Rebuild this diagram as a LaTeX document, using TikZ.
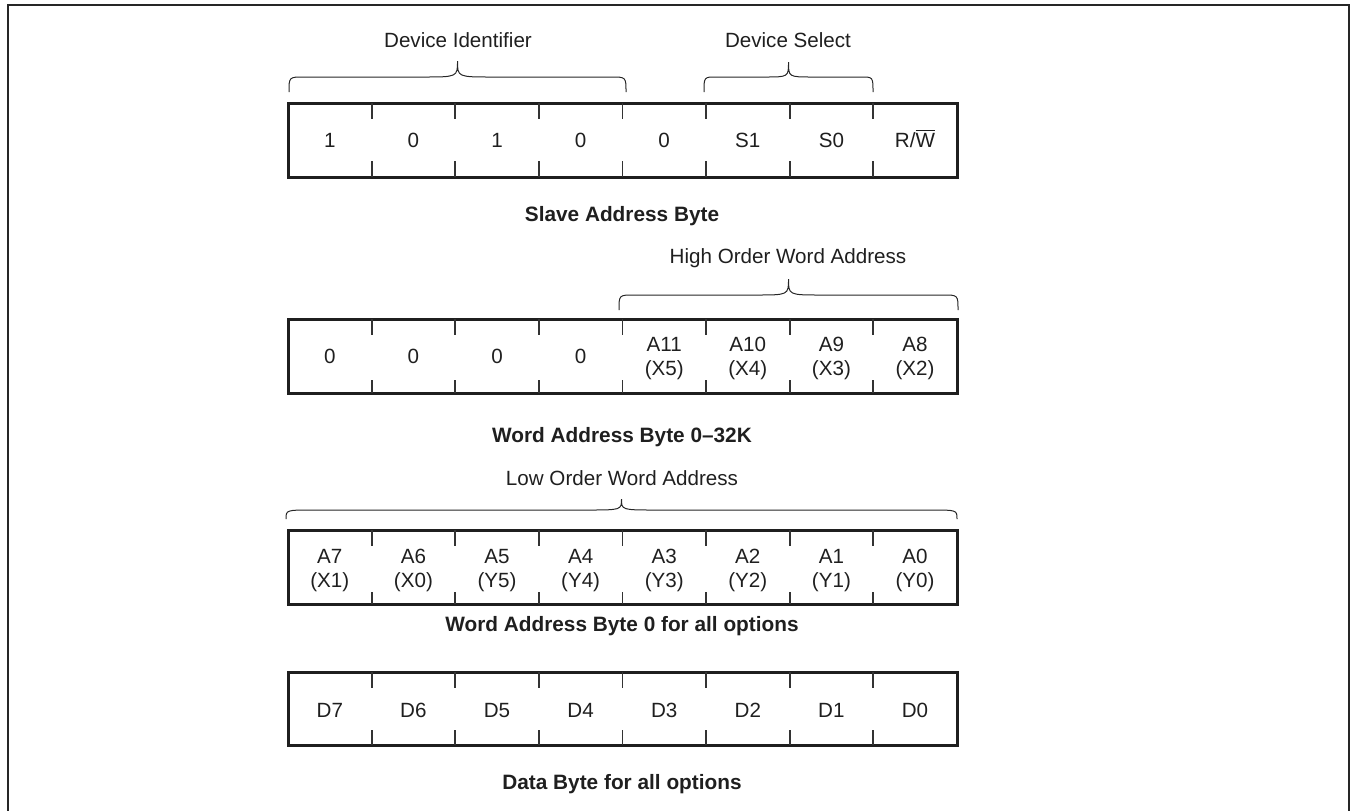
\documentclass[tikz,border=0pt]{standalone}
\usepackage{fontspec}
\setmainfont{Liberation Sans}
\newcommand{\ovl}[1]{$\overline{\hbox{#1}}$}
\newcommand{\drawbrace}[8]{% name xl xr ye yl yt rx mx
  \draw[bracepath] (#2,#4) .. controls (#2,#5) .. ({#2+#7},#5)
    -- ({(#2+#3)/2-#8},#5) .. controls ({(#2+#3)/2},#5) .. ({(#2+#3)/2},#6)
    coordinate (#1)
    .. controls ({(#2+#3)/2},#5) .. ({(#2+#3)/2+#8},#5)
    -- ({#3-#7},#5) .. controls (#3,#5) .. (#3,#4);}
\begin{document}
\begin{tikzpicture}[x=0.5pt,y=-0.5pt,
  frame/.style={line width=1pt, draw=black!85},
  boxline/.style={line width=1.5pt, draw=black!88},
  tickline/.style={line width=0.9pt, draw=black!80},
  bracepath/.style={line width=0.5pt, draw=black!85},
  lbl/.style={anchor=base, inner sep=0pt, text=black!88, font=\fontsize{10.3}{12}\selectfont},
  captext/.style={lbl, font=\bfseries\fontsize{10.4}{12}\selectfont}]
\useasboundingbox (0,0) rectangle (1353,810);
% outer frame
\coordinate (fbl) at (8,812);
\coordinate (ftl) at (8,5);
\coordinate (ftr) at (1349,5);
\coordinate (fbr) at (1349,812);
\draw[frame] (fbl) -- (ftl) -- (ftr) -- (fbr);
% byte boxes
\foreach \r/\t/\b/\tb in {1/103/177/16, 2/319/393/13, 3/530/604/12, 4/672/745/15}{
  \draw[boxline] (288,\t) rectangle (957,\b);
  \foreach \i in {1,...,7}{
    \draw[tickline] ({288+83.6*\i},\t) -- ++(0,16);
    \draw[tickline] ({288+83.6*\i},\b) -- ++(0,-\tb);
  }
}
% row 1
\foreach \i/\s in {0/1,1/0,2/1,3/0,4/0,5/S1,6/S0,7/{R/\ovl{W}}}{
  \node[lbl] (r1c\i) at ({288+83.6*(\i+0.5)},147) {\s};
}
% row 2
\foreach \i in {0,...,3}{
  \node[lbl] (r2c\i) at ({288+83.6*(\i+0.5)},363) {0};
}
\foreach \i/\s/\u in {4/A11/X5,5/A10/X4,6/A9/X3,7/A8/X2}{
  \node[lbl] (r2c\i) at ({288+83.6*(\i+0.5)},351) {\s};
  \node[lbl] (r2d\i) at ({288+83.6*(\i+0.5)},375) {(\u)};
}
% row 3
\foreach \i/\s/\u in {0/A7/X1,1/A6/X0,2/A5/Y5,3/A4/Y4,4/A3/Y3,5/A2/Y2,6/A1/Y1,7/A0/Y0}{
  \node[lbl] (r3c\i) at ({288+83.6*(\i+0.5)},563) {\s};
  \node[lbl] (r3d\i) at ({288+83.6*(\i+0.5)},587) {(\u)};
}
% row 4
\foreach \i/\s in {0/D7,1/D6,2/D5,3/D4,4/D3,5/D2,6/D1,7/D0}{
  \node[lbl] (r4c\i) at ({288+83.6*(\i+0.5)},717) {\s};
}
% braces
\drawbrace{bDI}{289}{626}{92}{77}{61}{15}{35}
\drawbrace{bDS}{704}{873}{92}{77}{62}{12}{24}
\drawbrace{bHO}{619}{958}{310}{295}{279}{15}{33}
\drawbrace{bLO}{286}{957}{519}{510}{499}{27}{35}
% brace labels
\node[lbl] (tDI) at (458,47) {Device Identifier};
\node[lbl] (tDS) at (788,47) {Device Select};
\node[lbl] (tHO) at (788,263) {High Order Word Address};
\node[lbl] (tLO) at (622,485) {Low Order Word Address};
% captions
\node[captext] (c1) at (622,221) {Slave Address Byte};
\node[captext] (c2) at (622,442) {Word Address Byte 0–32K};
\node[captext] (c3) at (622,631) {Word Address Byte 0 for all options};
\node[captext] (c4) at (622,789) {Data Byte for all options};
\end{tikzpicture}
\end{document}
